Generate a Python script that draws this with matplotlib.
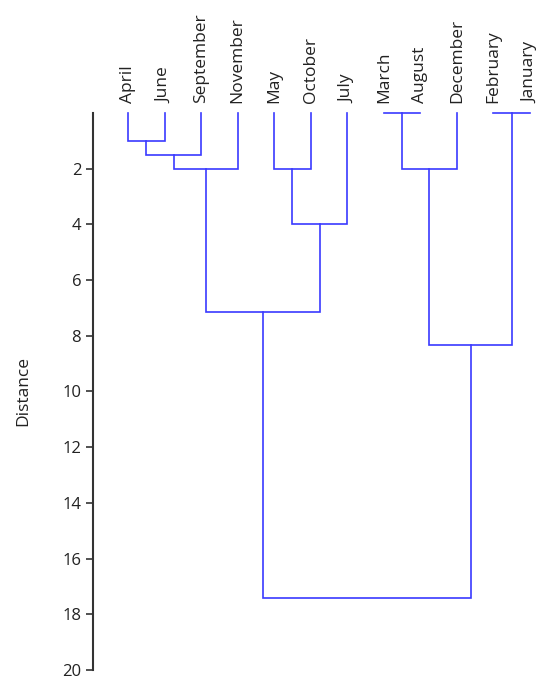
import matplotlib
matplotlib.use("Agg")
import matplotlib.pyplot as plt

# leaves in display order
leaves = ["April", "June", "September", "November", "May", "October", "July",
          "March", "August", "December", "February", "January"]

# merges: (left node, right node, distance); new node ids start at len(leaves)
merge_left = [0, 12, 13, 4, 15, 7, 17, 10, 14, 18, 20]
merge_right = [1, 2, 3, 5, 6, 8, 9, 11, 16, 19, 21]
merge_dist = [1.0, 1.5, 2.0, 2.0, 4.0, 0.0, 2.0, 0.0, 7.15, 8.35, 17.4]

line_color = "#3a3aff"

plt.rcParams['font.family'] = ['Open Sans', 'DejaVu Sans']

fig = plt.figure(figsize=(5.5, 6.88), dpi=100)
ax = fig.add_axes([0.169, 0.026, 0.827, 0.81])

xpos = {i: float(i) for i in range(len(leaves))}
ypos = {i: 0.0 for i in range(len(leaves))}
node = len(leaves)
for l, r, d in zip(merge_left, merge_right, merge_dist):
    xl, xr = xpos[l], xpos[r]
    ax.plot([xl, xl, xr, xr], [ypos[l], d, d, ypos[r]],
            color=line_color, lw=1.2, solid_joinstyle='miter', clip_on=False)
    xpos[node] = (xl + xr) / 2
    ypos[node] = d
    node += 1

ax.set_xlim(-0.96, 11.49)
ax.set_ylim(20, 0)
ax.set_yticks(range(2, 21, 2))
ax.xaxis.tick_top()
ax.set_xticks(range(len(leaves)))
ax.set_xticklabels(leaves, rotation=90, fontsize=12.5, color="#222222")
ax.tick_params(axis='x', length=0, pad=7)
ax.tick_params(axis='y', length=5, width=1.2, labelsize=12,
               labelcolor="#222222", color="#333333")
for s in ["top", "right", "bottom"]:
    ax.spines[s].set_visible(False)
ax.spines["left"].set_linewidth(1.5)
ax.spines["left"].set_color("#333333")
ax.set_ylabel("Distance", fontsize=12.5, color="#222222", labelpad=22)

fig.savefig("out.png", dpi=100)
